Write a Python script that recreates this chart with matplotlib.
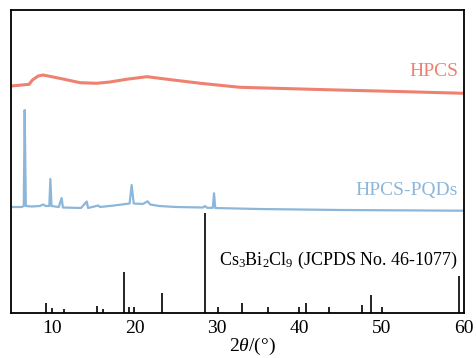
import matplotlib
matplotlib.use("Agg")
import matplotlib.pyplot as plt

plt.rcParams['font.family'] = ['Liberation Serif', 'DejaVu Serif']
plt.rcParams['mathtext.fontset'] = 'custom'
plt.rcParams['mathtext.rm'] = 'Liberation Serif'
plt.rcParams['mathtext.it'] = 'Liberation Serif:italic'

# ------------------- Data -------------------
# HPCS (amorphous, red)
hpcs_x = [5.0, 7.2, 7.6, 8.3, 8.9, 10.9, 13.4, 15.4, 17.0, 19.0, 21.5, 24.7, 28.0, 32.8, 44.6, 52.0, 60.0]
hpcs_y = [227, 228.7, 233, 237, 238, 234.7, 230.3, 229.7, 231, 233.7, 236.3, 233, 229.7, 225.7, 223, 221.5, 219.7]

# HPCS-PQDs (blue)
pqd_x = [5.0, 6.3, 6.55, 6.66, 6.8, 7.5, 8.5, 8.93, 9.2, 9.65, 9.78, 9.92, 10.8, 11.15, 11.3,
         13.5, 14.2, 14.35, 15.6, 15.8, 17.5, 19.4, 19.65, 19.9, 21.0, 21.6, 21.9, 23.0, 25.0,
         28.3, 28.55, 28.8, 29.5, 29.65, 29.8, 35.0, 45.0, 60.0]
pqd_y = [106, 106, 107, 203, 107, 106.5, 107, 108.5, 107, 107, 134, 107, 106, 115, 105.5,
         105, 111.5, 105, 107.5, 106, 107.5, 109.5, 128, 109.5, 109, 111.7, 108.5, 107, 106,
         105.5, 107, 105.2, 105.2, 119.7, 105, 104, 103, 102.3]

# Cs3Bi2Cl9 reference sticks (JCPDS No. 46-1077)
ref_pos = [9.21, 9.94, 11.4, 15.5, 16.2, 18.76, 19.37, 19.97, 23.3, 28.55, 30.1, 33.1,
           36.2, 40.0, 40.8, 43.6, 47.6, 48.7, 50.05, 59.36]
ref_int = [10, 5, 4, 7, 4, 41, 6, 6, 20, 100, 6, 10, 6, 6, 10, 6, 8, 18, 6, 37]

red = '#EE8170'
blue = '#8DB7DA'

fig = plt.figure(figsize=(4.77, 3.58), dpi=100)
ax = fig.add_axes([11 / 477, 1 - 313 / 358, 453 / 477, 303 / 358])

ax.plot(hpcs_x, hpcs_y, color=red, lw=2.2)
ax.plot(pqd_x, pqd_y, color=blue, lw=1.6)
ax.vlines(ref_pos, 0, ref_int, color='black', lw=1.2)

ax.text(59.3, 241, 'HPCS', color=red, fontsize=14, ha='right', va='center')
ax.text(59.3, 122, 'HPCS-PQDs', color=blue, fontsize=14, ha='right', va='center')
ax.text(59.3, 53, r'Cs$_3$Bi$_2$Cl$_9$ (JCPDS No. 46-1077)', color='black',
        fontsize=13, ha='right', va='center')

ax.set_xlim(5, 60)
ax.set_ylim(0, 303)
ax.set_xticks([10, 20, 30, 40, 50, 60])
ax.set_yticks([])
ax.tick_params(axis='x', length=0, labelsize=14, pad=5)
ax.set_xlabel(r'2$\it{\theta}$/(°)', fontsize=14)
ax.xaxis.set_label_coords(0.532, -0.075)
for s in ax.spines.values():
    s.set_linewidth(1.3)

fig.savefig('out.png', dpi=100)
